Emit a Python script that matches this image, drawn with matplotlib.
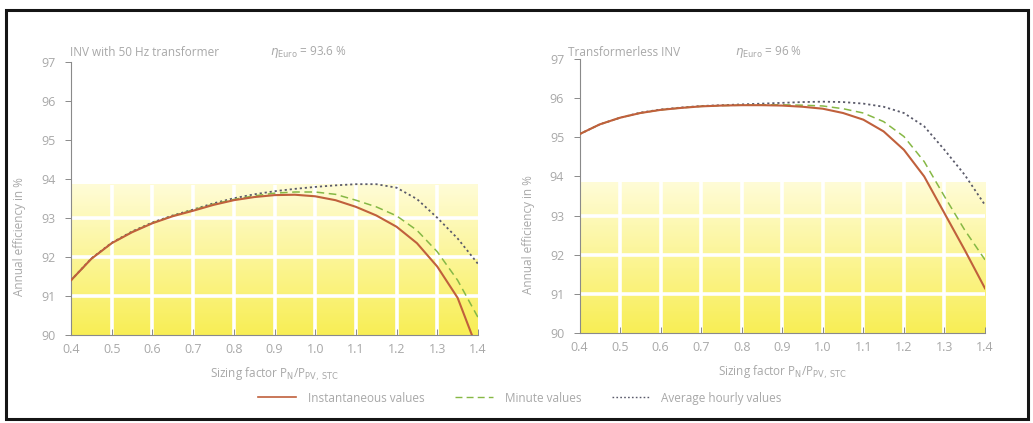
import numpy as np
import matplotlib
matplotlib.use("Agg")
import matplotlib.pyplot as plt
from matplotlib.patches import Rectangle
from matplotlib.lines import Line2D

plt.rcParams['font.family'] = ['Open Sans', 'DejaVu Sans']

# ---------------- data ----------------
x_std = [0.40, 0.45, 0.50, 0.55, 0.60, 0.65, 0.70, 0.75, 0.80, 0.85, 0.90,
         0.95, 1.00, 1.05, 1.10, 1.15, 1.20, 1.25, 1.30, 1.35, 1.40]

# Left panel: INV with 50 Hz transformer
left_inst_x = [0.40, 0.45, 0.50, 0.55, 0.60, 0.65, 0.70, 0.75, 0.80, 0.85, 0.90,
               0.95, 1.00, 1.05, 1.10, 1.15, 1.20, 1.25, 1.30, 1.35, 1.385]
left_inst = [91.40, 91.95, 92.35, 92.63, 92.86, 93.04, 93.18, 93.33, 93.45, 93.53, 93.58,
             93.59, 93.55, 93.45, 93.28, 93.06, 92.77, 92.35, 91.75, 90.95, 90.00]
left_min = [91.40, 91.95, 92.35, 92.64, 92.87, 93.05, 93.20, 93.35, 93.47, 93.56, 93.63,
            93.66, 93.66, 93.60, 93.45, 93.28, 93.05, 92.68, 92.13, 91.40, 90.45]
left_hour = [91.40, 91.96, 92.36, 92.65, 92.88, 93.06, 93.21, 93.37, 93.50, 93.60, 93.68,
             93.74, 93.79, 93.83, 93.86, 93.86, 93.77, 93.48, 93.00, 92.47, 91.82]

# Right panel: Transformerless INV
right_inst = [95.08, 95.33, 95.50, 95.62, 95.70, 95.75, 95.79, 95.81, 95.82, 95.82, 95.81,
              95.78, 95.73, 95.62, 95.45, 95.15, 94.68, 94.00, 93.06, 92.12, 91.14]
right_min = [95.08, 95.33, 95.50, 95.62, 95.70, 95.75, 95.79, 95.81, 95.82, 95.83, 95.83,
             95.82, 95.80, 95.73, 95.62, 95.40, 95.02, 94.38, 93.49, 92.63, 91.87]
right_hour = [95.08, 95.33, 95.50, 95.63, 95.71, 95.76, 95.80, 95.82, 95.84, 95.86, 95.88,
              95.90, 95.91, 95.90, 95.86, 95.78, 95.62, 95.28, 94.68, 94.04, 93.27]

x_ticks = [0.4, 0.5, 0.6, 0.7, 0.8, 0.9, 1.0, 1.1, 1.2, 1.3, 1.4]
x_ticklabels = ['0.4', '0.5', '0.6', '0.7', '0.8', '0.9', '1.0', '1.1', '1.2', '1.3', '1.4']
y_ticks = [90, 91, 92, 93, 94, 95, 96, 97]

titles = ['INV with 50 Hz transformer', 'Transformerless INV']
eta_labels = [r'$\eta_{\rm Euro}$ = 93.6 %', r'$\eta_{\rm Euro}$ = 96 %']
legend_labels = ['Instantaneous values', 'Minute values', 'Average hourly values']

# ---------------- styling ----------------
W, H = 1033, 423
fig = plt.figure(figsize=(W / 100, H / 100), dpi=100)
fig.patch.set_facecolor('white')

TXT = '#a8a8a8'
C_INST = '#c0603c'
C_MIN = '#86b845'
C_HOUR = '#5a5a6a'


def px_axes(x0, x1, ytop, ybot):
    return [x0 / W, 1 - ybot / H, (x1 - x0) / W, (ybot - ytop) / H]


axL = fig.add_axes(px_axes(71, 478, 61.5, 335))
axR = fig.add_axes(px_axes(579.5, 985, 59, 333))

# yellow gradient colours (bottom -> top)
c_bot = np.array([248, 238, 85]) / 255
c_top = np.array([255, 252, 215]) / 255
grad = np.linspace(0, 1, 200)[:, None]
img = c_bot[None, None, :] * (1 - grad[..., None]) + c_top[None, None, :] * grad[..., None]
img = np.repeat(img, 2, axis=1)

panels = [
    (axL, left_inst_x, left_inst, left_min, left_hour, titles[0], eta_labels[0], 70, 270),
    (axR, x_std, right_inst, right_min, right_hour, titles[1], eta_labels[1], 568, 735),
]

for ax, xi, yi, ym, yh, title, eta, tx, ex in panels:
    ax.set_xlim(0.4, 1.4)
    ax.set_ylim(90, 97)
    ax.set_facecolor('none')
    # background tiles
    ax.imshow(img, extent=[0.4, 1.4, 90, 93.85], origin='lower', aspect='auto',
              zorder=0, interpolation='bilinear')
    for xv in x_ticks[1:-1]:
        ax.plot([xv, xv], [90, 93.85], color='white', lw=2.6, zorder=1,
                solid_capstyle='butt')
    for yv in [91, 92, 93]:
        ax.plot([0.4, 1.4], [yv, yv], color='white', lw=2.6, zorder=1,
                solid_capstyle='butt')

    ax.plot(x_std, yh, color=C_HOUR, lw=1.3, ls=(0, (1.2, 1.6)), zorder=3)
    ax.plot(x_std, ym, color=C_MIN, lw=1.1, ls=(0, (5, 3)), zorder=4)
    ax.plot(xi, yi, color=C_INST, lw=1.5, zorder=5)

    for s in ['top', 'right']:
        ax.spines[s].set_visible(False)
    for s in ['left', 'bottom']:
        ax.spines[s].set_color('#8a8a8a')
        ax.spines[s].set_linewidth(0.8)
    ax.set_xticks(x_ticks)
    ax.set_xticklabels(x_ticklabels)
    ax.set_yticks(y_ticks)
    ax.tick_params(axis='y', direction='out', length=4, width=0.7, colors='#8a8a8a',
                   labelcolor=TXT, labelsize=9, pad=7)
    ax.tick_params(axis='x', direction='in', length=4, width=0.7, colors='#8a8a8a',
                   labelcolor=TXT, labelsize=9, pad=6)
    ax.set_xlabel(r'Sizing factor P$_{\rm N}$/P$_{\rm PV,\,STC}$', color=TXT,
                  fontsize=8.5, labelpad=7)
    ax.set_ylabel('Annual efficiency in %', color=TXT, fontsize=8.5)
    ax.yaxis.set_label_coords(-0.11, 0.36)

    fig.text(tx / W, 1 - 52 / H, title, color=TXT, fontsize=8.5, va='center', ha='left')
    fig.text(ex / W, 1 - 52 / H, eta, color=TXT, fontsize=8.5, va='center', ha='left')

# legend
handles = [
    Line2D([], [], color=C_INST, lw=1.2),
    Line2D([], [], color=C_MIN, lw=1.0, ls=(0, (5, 3))),
    Line2D([], [], color=C_HOUR, lw=1.0, ls=(0, (1.2, 1.6))),
]
leg = fig.legend(handles, legend_labels, loc='center', bbox_to_anchor=(520 / W, 1 - 398 / H),
                 ncol=3, frameon=False, fontsize=8.5, handlelength=3.2, columnspacing=2.6,
                 handletextpad=1.0)
for t in leg.get_texts():
    t.set_color(TXT)

# outer frame
fig.patches.append(Rectangle((5.5 / W, 1 - 419 / H), (1028 - 5.5) / W, (419 - 10) / H,
                             transform=fig.transFigure, fill=False, edgecolor='#151515',
                             lw=2.2, zorder=10))

fig.savefig('out.png', dpi=100, facecolor='white')
